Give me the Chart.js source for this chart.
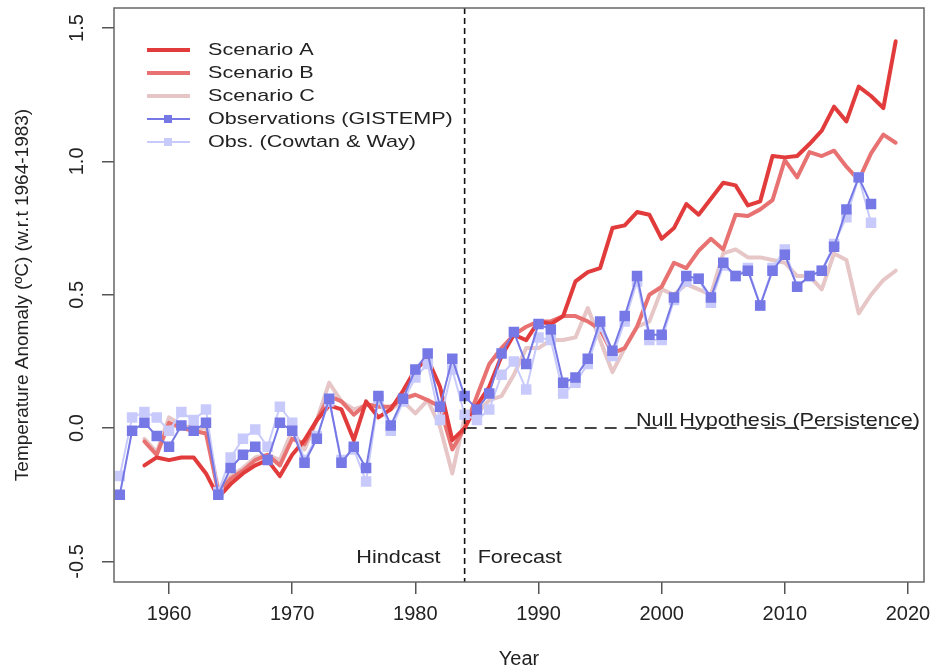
<!DOCTYPE html>
<html>
<head>
<meta charset="utf-8">
<script src="https://cdn.jsdelivr.net/npm/chart.js@4.4.1/dist/chart.umd.min.js"></script>
<style>
  html, body { margin: 0; padding: 0; background: #fff; }
  #wrap { width: 932px; height: 671px; }
</style>
</head>
<body>
<div id="wrap"><canvas id="chart" width="932" height="671"></canvas></div>
<script>
// Years covered by the model scenarios and by the observations
const scenarioYears = [];
for (let y = 1958; y <= 2019; y++) scenarioYears.push(y);
const obsYears = [];
for (let y = 1956; y <= 2017; y++) obsYears.push(y);

// Hansen 1988 scenarios
const scenarioA = [
    -0.14, -0.11, -0.12, -0.11, -0.11, -0.17, -0.26, -0.21, -0.17, -0.14, -0.12, -0.18,
    -0.10, -0.045, 0.03, 0.085, 0.07, -0.045, 0.10, 0.04, 0.07, 0.14,
    0.22, 0.26, 0.155, -0.045, 0.0, 0.085, 0.155, 0.27, 0.35, 0.33,
    0.40, 0.39, 0.42, 0.55, 0.585, 0.60, 0.75, 0.76, 0.81, 0.80,
    0.71, 0.75, 0.84, 0.80, 0.86, 0.92, 0.91, 0.835, 0.85, 1.02,
    1.015, 1.02, 1.065, 1.115, 1.205, 1.15, 1.28, 1.245, 1.20, 1.45
];
const scenarioB = [
    -0.05, -0.10, 0.02, 0.0, -0.01, -0.02, -0.24, -0.19, -0.16, -0.12, -0.10, -0.14,
    -0.04, -0.06, 0.03, 0.12, 0.10, 0.05, 0.09, 0.08, 0.08, 0.11,
    0.125, 0.105, 0.08, -0.08, 0.0, 0.12, 0.24, 0.30, 0.35, 0.38,
    0.40, 0.40, 0.42, 0.42, 0.40, 0.37, 0.28, 0.30, 0.38, 0.50,
    0.53, 0.62, 0.60, 0.665, 0.71, 0.67, 0.80, 0.795, 0.82, 0.855,
    1.005, 0.94, 1.035, 1.02, 1.04, 0.98, 0.93, 1.03, 1.10, 1.07
];
const scenarioC = [
    -0.04, -0.09, 0.04, 0.01, 0.0, 0.0, -0.23, -0.18, -0.15, -0.11, -0.10, -0.12,
    -0.01, -0.08, 0.03, 0.17, 0.10, 0.07, 0.085, 0.09, 0.07, 0.10,
    0.055, 0.105, 0.005, -0.17, 0.04, 0.055, 0.105, 0.12, 0.20, 0.30,
    0.30, 0.33, 0.33, 0.34, 0.45, 0.33, 0.21, 0.30, 0.38, 0.40,
    0.52, 0.50, 0.54, 0.52, 0.50, 0.655, 0.67, 0.64, 0.64, 0.63,
    0.62, 0.57, 0.57, 0.52, 0.655, 0.63, 0.43, 0.50, 0.555, 0.59
];

// Observations
const gistemp = [
    -0.25, -0.01, 0.02, -0.03,
    -0.07, 0.01, -0.01, 0.02, -0.25, -0.15, -0.10, -0.07, -0.12, 0.02,
    -0.01, -0.13, -0.04, 0.11, -0.13, -0.07, -0.15, 0.12, 0.01, 0.11,
    0.22, 0.28, 0.08, 0.26, 0.12, 0.07, 0.13, 0.28, 0.36, 0.24,
    0.39, 0.37, 0.17, 0.19, 0.26, 0.40, 0.29, 0.42, 0.57, 0.35,
    0.35, 0.49, 0.57, 0.56, 0.49, 0.62, 0.57, 0.59, 0.46, 0.59,
    0.65, 0.53, 0.57, 0.59, 0.68, 0.82, 0.94, 0.84
];
const cowtanWay = [
    -0.18, 0.04, 0.06, 0.04,
    -0.01, 0.06, 0.03, 0.07, -0.24, -0.11, -0.04, -0.005, -0.07, 0.08,
    0.02, -0.12, -0.03, 0.10, -0.12, -0.08, -0.20, 0.11, -0.01, 0.10,
    0.19, 0.24, 0.03, 0.22, 0.05, 0.03, 0.07, 0.20, 0.25, 0.145,
    0.34, 0.33, 0.13, 0.17, 0.24, 0.38, 0.27, 0.40, 0.55, 0.33,
    0.33, 0.48, 0.55, 0.56, 0.47, 0.61, 0.57, 0.60, 0.46, 0.60,
    0.67, 0.53, 0.57, 0.59, 0.69, 0.79, 0.94, 0.77
];

const xTicks = [1960, 1970, 1980, 1990, 2000, 2010, 2020];
const yTicks = [-0.5, 0.0, 0.5, 1.0, 1.5];
const forecastStart = 1984;

const seriesNames = ['Scenario A', 'Scenario B', 'Scenario C', 'Observations (GISTEMP)', 'Obs. (Cowtan & Way)'];
const seriesColors = ['#e23b3b', '#e87272', '#e6c6c6', '#7678e6', '#c8cafb'];

function toPoints(years, values) {
    return years.map((yr, i) => ({ x: yr, y: values[i] }));
}

const FONT = '"Liberation Sans", Arial, sans-serif';

// keep the plot box where the reference has it (no extra room for overhanging labels)
function fixBox(size) {
    return scale => {
        if (scale.isHorizontal()) scale.height = size; else scale.width = size;
        scale.paddingTop = 0;
        scale.paddingBottom = 0;
        scale.paddingLeft = 0;
        scale.paddingRight = 0;
    };
}

// text a bit wider than the font, like the stretched original
function wideText(ctx, text, x, y, sx) {
    ctx.save();
    ctx.translate(x, y);
    ctx.scale(sx, 1);
    ctx.fillText(text, 0, 0);
    ctx.restore();
}

// box around the plot, dashed reference lines, text notes and legend
const decorations = {
    id: 'decorations',
    beforeDatasetsDraw(chart) {
        const ctx = chart.ctx;
        const area = chart.chartArea;
        const xs = chart.scales.x, ys = chart.scales.y;
        const xf = xs.getPixelForValue(forecastStart);
        const y0 = ys.getPixelForValue(0);
        ctx.save();
        // persistence line
        ctx.strokeStyle = '#444';
        ctx.lineWidth = 2;
        ctx.setLineDash([12, 8]);
        ctx.beginPath();
        ctx.moveTo(xf, y0);
        ctx.lineTo(area.right, y0);
        ctx.stroke();
        ctx.restore();
    },
    afterDatasetsDraw(chart) {
        const ctx = chart.ctx;
        const area = chart.chartArea;
        const xs = chart.scales.x, ys = chart.scales.y;
        const xf = xs.getPixelForValue(forecastStart);
        const y0 = ys.getPixelForValue(0);
        ctx.save();
        // hindcast / forecast divider
        ctx.strokeStyle = '#111';
        ctx.lineWidth = 1.6;
        ctx.setLineDash([6, 4]);
        ctx.beginPath();
        ctx.moveTo(xf, area.top);
        ctx.lineTo(xf, area.bottom);
        ctx.stroke();
        ctx.setLineDash([]);

        // plot box
        ctx.strokeStyle = '#666';
        ctx.lineWidth = 1.5;
        ctx.strokeRect(area.left, area.top, area.right - area.left, area.bottom - area.top);

        ctx.fillStyle = '#222';
        ctx.font = '19px ' + FONT;
        ctx.textBaseline = 'middle';
        const yNote = ys.getPixelForValue(-0.485);
        ctx.textAlign = 'right';
        wideText(ctx, 'Hindcast', xf - 24, yNote, 1.14);
        ctx.textAlign = 'left';
        wideText(ctx, 'Forecast', xf + 13, yNote, 1.14);
        ctx.textAlign = 'right';
        ctx.textBaseline = 'alphabetic';
        wideText(ctx, 'Null Hypothesis (Persistence)', area.right - 4, y0 - 2, 1.14);

        // legend
        ctx.font = '17px ' + FONT;
        ctx.textAlign = 'left';
        ctx.textBaseline = 'middle';
        seriesNames.forEach((name, i) => {
            const ly = area.top + 42 + i * 23;
            const obs = i >= 3;
            ctx.strokeStyle = seriesColors[i];
            ctx.lineWidth = obs ? 2 : 4;
            ctx.beginPath();
            ctx.moveTo(147, ly);
            ctx.lineTo(190, ly);
            ctx.stroke();
            if (obs) {
                ctx.fillStyle = seriesColors[i];
                ctx.fillRect(164, ly - 4, 8, 8);
            }
            ctx.fillStyle = '#222';
            wideText(ctx, name, 208, ly, 1.27);
        });
        ctx.restore();
    }
};

const ctx = document.getElementById('chart').getContext('2d');
new Chart(ctx, {
    type: 'line',
    data: {
        datasets: [
            {
                label: seriesNames[3],
                data: toPoints(obsYears, gistemp),
                borderColor: seriesColors[3],
                backgroundColor: seriesColors[3],
                borderWidth: 2,
                pointStyle: 'rect',
                pointRadius: 6,
                order: 1
            },
            {
                label: seriesNames[4],
                data: toPoints(obsYears, cowtanWay),
                borderColor: seriesColors[4],
                backgroundColor: seriesColors[4],
                borderWidth: 2,
                pointStyle: 'rect',
                pointRadius: 6,
                order: 2
            },
            {
                label: seriesNames[0],
                data: toPoints(scenarioYears, scenarioA),
                borderColor: seriesColors[0],
                borderWidth: 4,
                pointRadius: 0,
                order: 3
            },
            {
                label: seriesNames[1],
                data: toPoints(scenarioYears, scenarioB),
                borderColor: seriesColors[1],
                borderWidth: 4,
                pointRadius: 0,
                order: 4
            },
            {
                label: seriesNames[2],
                data: toPoints(scenarioYears, scenarioC),
                borderColor: seriesColors[2],
                borderWidth: 4,
                pointRadius: 0,
                order: 5
            }
        ]
    },
    options: {
        responsive: false,
        animation: false,
        layout: { padding: { top: 8, right: 8, bottom: 0, left: 0 } },
        elements: { line: { tension: 0, borderJoinStyle: 'round', borderCapStyle: 'round' } },
        plugins: {
            legend: { display: false },
            tooltip: { enabled: false }
        },
        scales: {
            x: {
                type: 'linear',
                min: 1955.53,
                max: 2021.3,
                afterFit: fixBox(89),
                afterBuildTicks: scale => { scale.ticks = xTicks.map(v => ({ value: v })); },
                grid: { drawOnChartArea: false, drawTicks: true, tickLength: 12, color: '#555', lineWidth: 1.5 },
                border: { display: false },
                ticks: {
                    color: '#222',
                    font: { family: FONT, size: 20 },
                    padding: 8,
                    maxRotation: 0,
                    callback: v => String(v)
                },
                title: {
                    display: true,
                    text: 'Year',
                    color: '#222',
                    font: { family: FONT, size: 20 },
                    padding: { top: 0, bottom: 0 }
                }
            },
            y: {
                type: 'linear',
                min: -0.577,
                max: 1.575,
                afterFit: fixBox(114),
                afterBuildTicks: scale => { scale.ticks = yTicks.map(v => ({ value: v })); },
                grid: { drawOnChartArea: false, drawTicks: true, tickLength: 12, color: '#555', lineWidth: 1.5 },
                border: { display: false },
                ticks: {
                    color: '#222',
                    font: { family: FONT, size: 20 },
                    padding: 7,
                    minRotation: 90,
                    maxRotation: 90,
                    crossAlign: 'center',
                    callback: v => v.toFixed(1)
                },
                title: {
                    display: true,
                    text: 'Temperature Anomaly (ºC) (w.r.t 1964-1983)',
                    color: '#222',
                    font: { family: FONT, size: 19 },
                    padding: { top: 11, bottom: 0 }
                }
            }
        }
    },
    plugins: [decorations]
});
</script>
</body>
</html>
